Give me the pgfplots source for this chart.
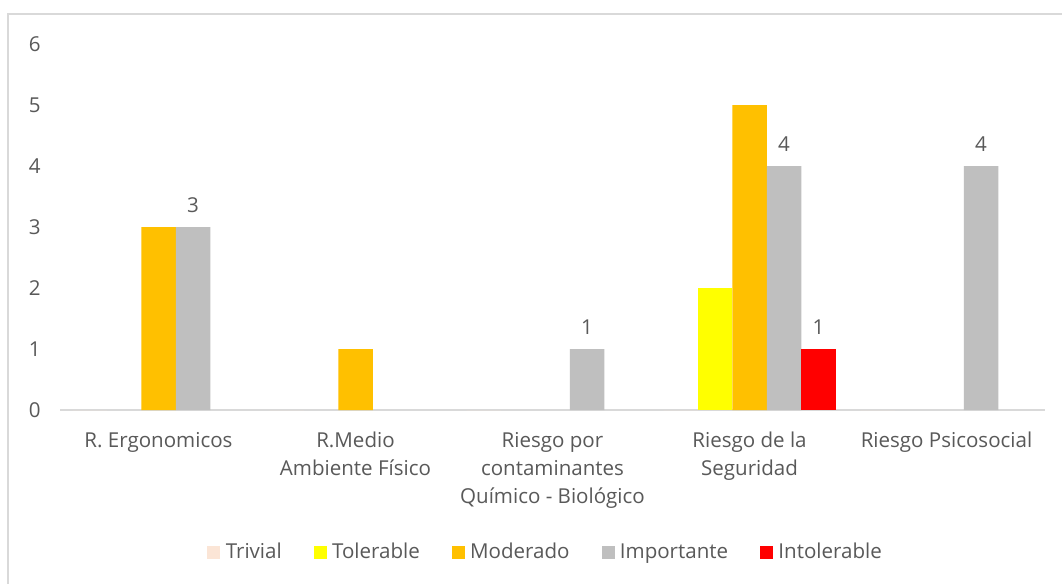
\documentclass[border=0pt]{standalone}
\usepackage{pgfplots}
\pgfplotsset{compat=1.18}
\usepackage{fontspec}
\setmainfont{Open Sans}
\definecolor{txt}{HTML}{595959}
\definecolor{axc}{HTML}{D9D9D9}
\definecolor{ctriv}{HTML}{FBE5D6}
\definecolor{ctol}{HTML}{FFFF00}
\definecolor{cmod}{HTML}{FFC000}
\definecolor{cimp}{HTML}{BFBFBF}
\definecolor{cint}{HTML}{FF0000}
\pgfplotsset{sq/.style={legend image code/.code={\fill[##1] (0pt,-4.875pt) rectangle (9.75pt,4.875pt);}}}
\begin{document}
\begin{tikzpicture}
\useasboundingbox (-45pt,-129.75pt) rectangle (751.5pt,307.5pt);
\fill[white] (-45pt,-129.75pt) rectangle (751.5pt,307.5pt);
\draw[color=axc, line width=1.5pt] (-39pt,-200pt) rectangle (800pt,297pt);
\begin{axis}[
  at={(0,0)}, anchor=south west,
  scale only axis, width=738.75pt, height=274.5pt,
  xmin=-0.5, xmax=4.5, ymin=0, ymax=6,
  ytick={0,1,2,3,4,5,6}, xtick={0,1,2,3,4},
  xticklabels={{R. Ergonomicos},{R.Medio\\Ambiente Físico},{Riesgo por\\contaminantes\\Químico - Biológico},{Riesgo de la\\Seguridad},{Riesgo Psicosocial}},
  /pgf/number format/assume math mode=true,
  axis x line*=bottom, axis y line*=left,
  y axis line style={draw=none},
  x axis line style={draw=axc, line width=1.1pt, -},
  major tick length=0pt,
  tick style={draw=none},
  ticklabel style={font=\fontsize{15.4}{21}\selectfont, color=txt},
  xticklabel style={align=center, yshift=-13pt},
  yticklabel style={xshift=-11pt},
  ybar=0pt, bar width=25.875pt,
  legend columns=-1,
  legend style={draw=none, fill=none, at={(0.4934,-0.388)}, anchor=center,
    font=\fontsize{15.4}{18}\selectfont, text=txt,
    /tikz/every even column/.append style={column sep=22pt},
    /tikz/every odd column/.append style={column sep=2pt}},
  nodes near coords style={font=\fontsize{15.4}{18}\selectfont, color=txt, yshift=7pt},
]
\addplot[sq, fill=ctriv, draw=none] coordinates {(0,0) (1,0) (2,0) (3,0) (4,0)};
\addlegendentry{Trivial}
\addplot[sq, fill=ctol, draw=none] coordinates {(3,2)};
\addlegendentry{Tolerable}
\addplot[sq, fill=cmod, draw=none] coordinates {(0,3) (1,1) (3,5)};
\addlegendentry{Moderado}
\addplot[sq, fill=cimp, draw=none, nodes near coords] coordinates {(0,3) (2,1) (3,4) (4,4)};
\addlegendentry{Importante}
\addplot[sq, fill=cint, draw=none, nodes near coords] coordinates {(3,1)};
\addlegendentry{Intolerable}
\end{axis}
\end{tikzpicture}
\end{document}
